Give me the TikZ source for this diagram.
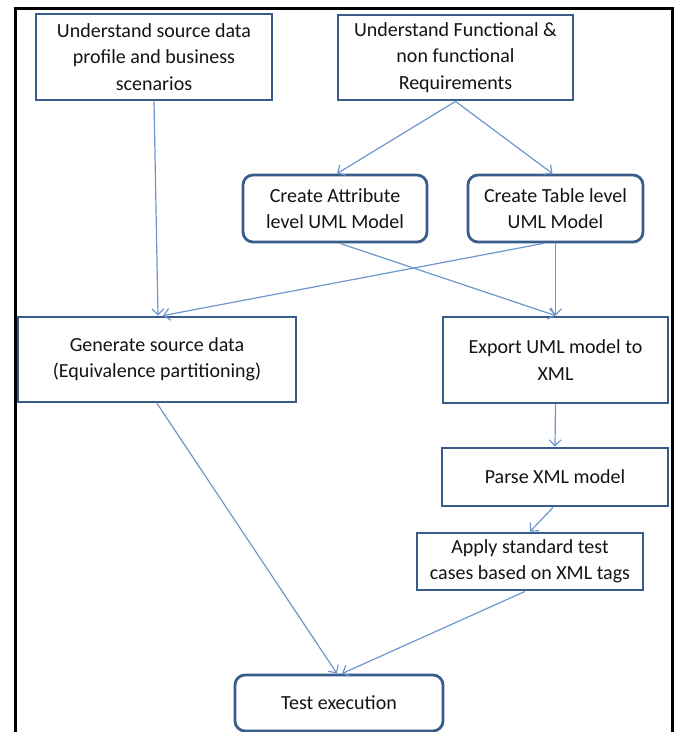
\documentclass[tikz,border=0pt]{standalone}
\usepackage{fontspec}
\setmainfont{Carlito}
\usetikzlibrary{arrows.meta,calc}
\definecolor{boxblue}{RGB}{56,93,138}
\definecolor{lineblue}{RGB}{110,150,205}
\definecolor{txt}{RGB}{20,20,20}
\begin{document}
\begin{tikzpicture}[x=1pt,y=-1pt,
  flowbox/.style={draw=boxblue,line width=2.8pt,fill=white,align=center,
    text=txt,font=\fontsize{20}{26.5}\selectfont,inner sep=0pt},
  roundbox/.style={flowbox,rounded corners=10pt},
  conn/.style={draw=lineblue,line width=1.2pt,
    -{Straight Barb[length=6pt,width=12pt,line width=1.2pt]}}]
\useasboundingbox (0,0) rectangle (675,732);
\draw[line width=3pt,black] (15,740) -- (15,8) -- (672,8) -- (672,740);
\node[flowbox,minimum width=236,minimum height=86] (b1) at (154,57)
  {Understand source data\\profile and business\\scenarios};
\node[flowbox,minimum width=235,minimum height=85] (b2) at (455.5,57.5)
  {Understand Functional \&\\non functional\\Requirements};
\node[roundbox,minimum width=184,minimum height=67] (b3) at (335,208.5)
  {Create Attribute\\level UML Model};
\node[roundbox,minimum width=175,minimum height=67] (b4) at (555.5,208.5)
  {Create Table level\\UML Model};
\node[flowbox,minimum width=278,minimum height=85] (b5) at (157,359.5)
  {Generate source data\\(Equivalence partitioning)};
\node[flowbox,minimum width=225,minimum height=86] (b6) at (555.5,360)
  {Export UML model to\\XML};
\node[flowbox,minimum width=226,minimum height=58] (b7) at (555,477)
  {Parse XML model};
\node[flowbox,minimum width=226,minimum height=57] (b8) at (530,561.5)
  {Apply standard test\\cases based on XML tags};
\node[roundbox,minimum width=208,minimum height=56] (b9) at (339,703)
  {Test execution};
\draw[conn] (b1.south) -- ([xshift=1pt]b5.north);
\draw[conn] (b2.south) -- ([xshift=2pt]b3.north);
\draw[conn] (b2.south) -- ([xshift=-3pt]b4.north);
\draw[conn] ([xshift=5pt]b3.south) -- (b6.north);
\draw[conn] (b4.south) -- (b6.north);
\draw[conn] ([xshift=-12pt]b4.south) -- ([xshift=6pt]b5.north);
\draw[conn] (b6.south) -- (b7.north);
\draw[conn] ([xshift=-2pt]b7.south) -- (b8.north);
\draw[conn] (b5.south) -- ([xshift=-2pt]b9.north);
\draw[conn] ([xshift=-5pt]b8.south) -- ([xshift=3pt]b9.north);
\end{tikzpicture}
\end{document}
